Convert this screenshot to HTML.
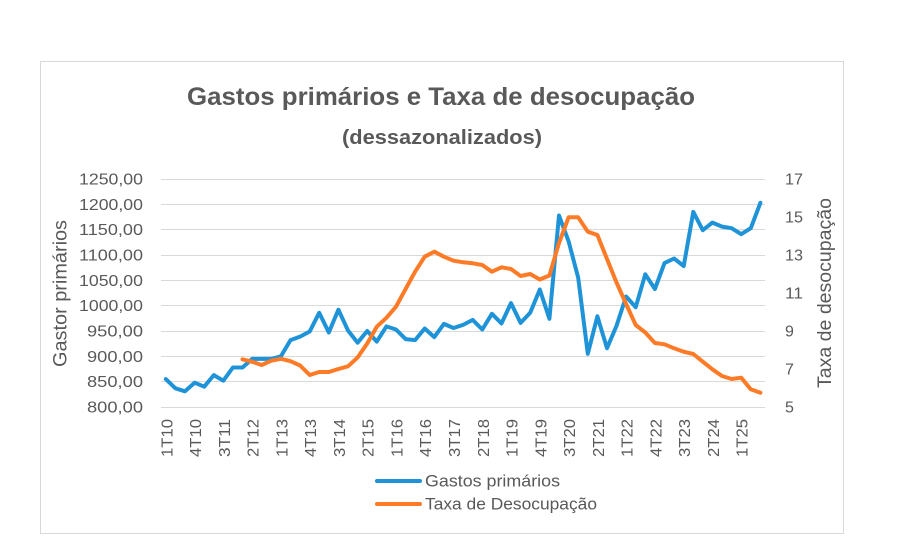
<!DOCTYPE html>
<html>
<head>
<meta charset="utf-8">
<style>
  html, body { margin: 0; padding: 0; background: #ffffff; }
  body { width: 900px; height: 560px; overflow: hidden; }
  svg { display: block; }
  text { font-family: "Liberation Sans", Arial, sans-serif; fill: #595959; }
</style>
</head>
<body>
<svg width="900" height="560" viewBox="0 0 900 560" xmlns="http://www.w3.org/2000/svg">
  <rect x="0" y="0" width="900" height="560" fill="#ffffff"/>
  <!-- chart frame -->
  <rect x="40.5" y="61.5" width="803" height="472" fill="none" stroke="#d9d9d9" stroke-width="1"/>

  <!-- title -->
  <text x="187" y="105" font-size="25" font-weight="bold" textLength="508" lengthAdjust="spacingAndGlyphs">Gastos primários e Taxa de desocupação</text>
  <text x="342" y="144" font-size="20" font-weight="bold" textLength="200" lengthAdjust="spacingAndGlyphs">(dessazonalizados)</text>

  <!-- gridlines -->
  <g stroke="#d9d9d9" stroke-width="1">
    <line x1="161" y1="179.5" x2="765" y2="179.5"/>
    <line x1="161" y1="204.5" x2="765" y2="204.5"/>
    <line x1="161" y1="229.5" x2="765" y2="229.5"/>
    <line x1="161" y1="255.5" x2="765" y2="255.5"/>
    <line x1="161" y1="280.5" x2="765" y2="280.5"/>
    <line x1="161" y1="305.5" x2="765" y2="305.5"/>
    <line x1="161" y1="331.5" x2="765" y2="331.5"/>
    <line x1="161" y1="356.5" x2="765" y2="356.5"/>
    <line x1="161" y1="381.5" x2="765" y2="381.5"/>
    <line x1="161" y1="407.5" x2="765" y2="407.5"/>
  </g>

  <!-- left axis labels -->
  <g font-size="16" text-anchor="end">
    <text x="143" y="184.5" textLength="64" lengthAdjust="spacingAndGlyphs">1250,00</text>
    <text x="143" y="209.8" textLength="64" lengthAdjust="spacingAndGlyphs">1200,00</text>
    <text x="143" y="235.2" textLength="64" lengthAdjust="spacingAndGlyphs">1150,00</text>
    <text x="143" y="260.5" textLength="64" lengthAdjust="spacingAndGlyphs">1100,00</text>
    <text x="143" y="285.8" textLength="64" lengthAdjust="spacingAndGlyphs">1050,00</text>
    <text x="143" y="311.2" textLength="64" lengthAdjust="spacingAndGlyphs">1000,00</text>
    <text x="143" y="336.5" textLength="56" lengthAdjust="spacingAndGlyphs">950,00</text>
    <text x="143" y="361.8" textLength="56" lengthAdjust="spacingAndGlyphs">900,00</text>
    <text x="143" y="387.2" textLength="56" lengthAdjust="spacingAndGlyphs">850,00</text>
    <text x="143" y="412.5" textLength="56" lengthAdjust="spacingAndGlyphs">800,00</text>
  </g>

  <!-- right axis labels -->
  <g font-size="16">
    <text x="785" y="184.5" textLength="18" lengthAdjust="spacingAndGlyphs">17</text>
    <text x="785" y="222.5" textLength="18" lengthAdjust="spacingAndGlyphs">15</text>
    <text x="785" y="260.5" textLength="18" lengthAdjust="spacingAndGlyphs">13</text>
    <text x="785" y="298.5" textLength="18" lengthAdjust="spacingAndGlyphs">11</text>
    <text x="785" y="336.5">9</text>
    <text x="785" y="374.5">7</text>
    <text x="785" y="412.5">5</text>
  </g>

  <!-- axis titles -->
  <text transform="translate(66.5,293.5) rotate(-90)" font-size="19" text-anchor="middle" textLength="147" lengthAdjust="spacingAndGlyphs">Gastor primários</text>
  <text transform="translate(831,293) rotate(-90)" font-size="19" text-anchor="middle" textLength="190" lengthAdjust="spacingAndGlyphs">Taxa de desocupação</text>

  <!-- x axis labels -->
  <g font-size="16">
    <text transform="translate(172.3,457) rotate(-90)" textLength="38" lengthAdjust="spacingAndGlyphs">1T10</text>
    <text transform="translate(201.1,457) rotate(-90)" textLength="38" lengthAdjust="spacingAndGlyphs">4T10</text>
    <text transform="translate(229.8,457) rotate(-90)" textLength="38" lengthAdjust="spacingAndGlyphs">3T11</text>
    <text transform="translate(258.6,457) rotate(-90)" textLength="38" lengthAdjust="spacingAndGlyphs">2T12</text>
    <text transform="translate(287.4,457) rotate(-90)" textLength="38" lengthAdjust="spacingAndGlyphs">1T13</text>
    <text transform="translate(316.2,457) rotate(-90)" textLength="38" lengthAdjust="spacingAndGlyphs">4T13</text>
    <text transform="translate(344.9,457) rotate(-90)" textLength="38" lengthAdjust="spacingAndGlyphs">3T14</text>
    <text transform="translate(373.7,457) rotate(-90)" textLength="38" lengthAdjust="spacingAndGlyphs">2T15</text>
    <text transform="translate(402.5,457) rotate(-90)" textLength="38" lengthAdjust="spacingAndGlyphs">1T16</text>
    <text transform="translate(431.2,457) rotate(-90)" textLength="38" lengthAdjust="spacingAndGlyphs">4T16</text>
    <text transform="translate(460.0,457) rotate(-90)" textLength="38" lengthAdjust="spacingAndGlyphs">3T17</text>
    <text transform="translate(488.8,457) rotate(-90)" textLength="38" lengthAdjust="spacingAndGlyphs">2T18</text>
    <text transform="translate(517.6,457) rotate(-90)" textLength="38" lengthAdjust="spacingAndGlyphs">1T19</text>
    <text transform="translate(546.3,457) rotate(-90)" textLength="38" lengthAdjust="spacingAndGlyphs">4T19</text>
    <text transform="translate(575.1,457) rotate(-90)" textLength="38" lengthAdjust="spacingAndGlyphs">3T20</text>
    <text transform="translate(603.9,457) rotate(-90)" textLength="38" lengthAdjust="spacingAndGlyphs">2T21</text>
    <text transform="translate(632.6,457) rotate(-90)" textLength="38" lengthAdjust="spacingAndGlyphs">1T22</text>
    <text transform="translate(661.4,457) rotate(-90)" textLength="38" lengthAdjust="spacingAndGlyphs">4T22</text>
    <text transform="translate(690.2,457) rotate(-90)" textLength="38" lengthAdjust="spacingAndGlyphs">3T23</text>
    <text transform="translate(719.0,457) rotate(-90)" textLength="38" lengthAdjust="spacingAndGlyphs">2T24</text>
    <text transform="translate(747.7,457) rotate(-90)" textLength="38" lengthAdjust="spacingAndGlyphs">1T25</text>
  </g>

  <!-- Gastos primários (blue) -->
  <polyline fill="none" stroke="#1f93d8" stroke-width="4" stroke-linejoin="round" stroke-linecap="round"
    points="165.8,379.1 175.4,388.3 185.0,391.3 194.6,382.7 204.2,386.7 213.8,375.1 223.3,380.7 232.9,367.5 242.5,367.5 252.1,358.9 261.7,358.9 271.3,358.9 280.9,356.3 290.5,340.1 300.1,336.6 309.7,331.5 319.2,312.8 328.8,332.5 338.4,309.7 348.0,330.5 357.6,342.7 367.2,331.0 376.8,341.6 386.4,326.4 396.0,329.5 405.6,339.1 415.1,340.1 424.7,328.5 434.3,337.1 443.9,323.9 453.5,328.0 463.1,324.9 472.7,319.9 482.3,329.5 491.9,313.8 501.5,323.4 511.0,303.1 520.6,322.9 530.2,312.8 539.8,289.5 549.4,318.8 559.0,215.5 568.6,241.3 578.2,277.8 587.8,353.8 597.4,316.3 607.0,348.2 616.5,325.9 626.1,296.5 635.7,307.2 645.3,274.3 654.9,289.0 664.5,263.1 674.1,258.5 683.7,266.1 693.3,211.9 702.8,230.2 712.4,222.6 722.0,226.6 731.6,228.2 741.2,234.2 750.8,228.2 760.4,202.8"/>

  <!-- Taxa de Desocupação (orange) -->
  <polyline fill="none" stroke="#fd7b27" stroke-width="4" stroke-linejoin="round" stroke-linecap="round"
    points="242.5,359.3 252.1,361.7 261.7,365.0 271.3,360.7 280.9,358.8 290.5,361.2 300.1,365.5 309.7,375.0 319.2,372.0 328.8,372.0 338.4,369.0 348.0,366.3 357.6,357.5 367.2,343.5 376.8,326.7 386.4,317.8 396.0,306.7 405.6,289.0 415.1,271.7 424.7,256.7 434.3,251.7 443.9,256.7 453.5,260.7 463.1,262.3 472.7,263.3 482.3,265.0 491.9,271.7 501.5,267.3 511.0,269.0 520.6,276.0 530.2,274.0 539.8,279.5 549.4,275.5 559.0,243.0 568.6,217.3 578.2,217.3 587.8,231.7 597.4,235.0 607.0,259.0 616.5,282.5 626.1,304.0 635.7,325.0 645.3,332.5 654.9,343.0 664.5,344.3 674.1,348.3 683.7,351.7 693.3,354.0 702.8,361.7 712.4,369.3 722.0,376.0 731.6,379.0 741.2,377.7 750.8,389.3 760.4,392.7"/>

  <!-- legend -->
  <line x1="377" y1="481" x2="420" y2="481" stroke="#1f93d8" stroke-width="4" stroke-linecap="round"/>
  <text x="425" y="486.5" font-size="17" textLength="135" lengthAdjust="spacingAndGlyphs">Gastos primários</text>
  <line x1="377" y1="504" x2="420" y2="504" stroke="#fd7b27" stroke-width="4" stroke-linecap="round"/>
  <text x="425" y="509.5" font-size="17" textLength="172" lengthAdjust="spacingAndGlyphs">Taxa de Desocupação</text>
</svg>
</body>
</html>
